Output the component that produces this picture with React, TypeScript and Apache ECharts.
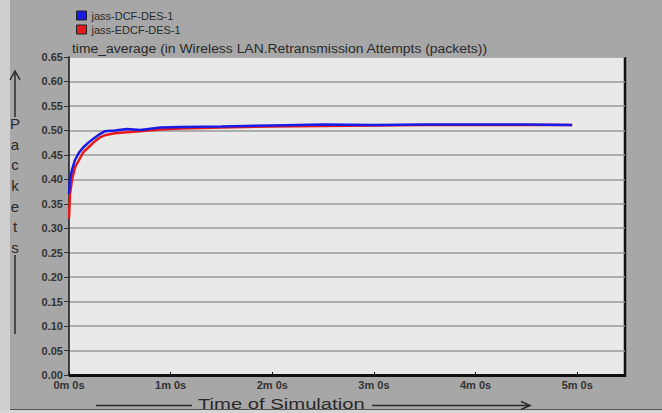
import React, { useEffect, useRef } from "react";
import * as echarts from "echarts";

const timeMin = [0, 0.01, 0.03, 0.06, 0.1, 0.14, 0.19, 0.24, 0.3, 0.35, 0.45, 0.57, 0.7, 0.9, 1.1, 1.5, 2.0, 2.5, 3.0, 3.5, 4.0, 4.5, 4.95];
const dcfValues = [0.37, 0.4, 0.42, 0.44, 0.455, 0.465, 0.475, 0.483, 0.492, 0.498, 0.5, 0.503, 0.501, 0.506, 0.507, 0.508, 0.51, 0.512, 0.511, 0.512, 0.512, 0.512, 0.511];
const edcfValues = [0.32, 0.37, 0.4, 0.425, 0.44, 0.455, 0.465, 0.475, 0.485, 0.49, 0.494, 0.496, 0.498, 0.502, 0.504, 0.506, 0.508, 0.509, 0.51, 0.511, 0.511, 0.511, 0.511];
const seriesNames = ["jass-DCF-DES-1", "jass-EDCF-DES-1"];
const chartTitle = "time_average (in Wireless LAN.Retransmission Attempts (packets))";
const xAxisTitle = "Time of Simulation";
const yAxisLetters = ["P", "a", "c", "k", "e", "t", "s"];

export default function App() {
  const ref = useRef<HTMLDivElement>(null);
  useEffect(() => {
    if (!ref.current) return;
    const chart = echarts.init(ref.current, null, { renderer: "svg" });
    const font = "'Liberation Sans', Arial, sans-serif";
    const dark = "#2a2a2a";
    chart.setOption({
      animation: false,
      backgroundColor: "#a7a7a7",
      textStyle: { fontFamily: font },
      legend: {
        orient: "vertical",
        left: 71,
        top: 5,
        itemGap: 3,
        itemWidth: 10,
        itemHeight: 9,
        icon: "rect",
        data: [
          { name: seriesNames[0], itemStyle: { color: "#1a1ae6", borderColor: "#222", borderWidth: 1 } },
          { name: seriesNames[1], itemStyle: { color: "#e61a1a", borderColor: "#222", borderWidth: 1 } },
        ],
        textStyle: { fontSize: 11, color: dark, fontFamily: font },
      },
      grid: {
        left: 69,
        right: 37,
        top: 57,
        bottom: 38,
        show: true,
        backgroundColor: "#e9e9e9",
        borderWidth: 0,
      },
      xAxis: {
        type: "value",
        min: 0,
        max: 5.47,
        interval: 1,
        axisLine: { show: true, lineStyle: { color: "#111", width: 2 } },
        axisTick: { show: true, inside: true, length: 3, lineStyle: { color: "#111" } },
        splitLine: { show: false },
        axisLabel: {
          formatter: (v: number) => `${v}m 0s`,
          fontSize: 11,
          color: "#333",
          fontWeight: "bold",
          margin: 4,
          showMaxLabel: false,
        },
      },
      yAxis: {
        type: "value",
        min: 0,
        max: 0.65,
        interval: 0.05,
        axisLine: { show: true, lineStyle: { color: "#111", width: 1.5 } },
        axisTick: { show: true, length: 5, lineStyle: { color: "#333" } },
        splitLine: { show: true, lineStyle: { color: "#999999", width: 1.5 } },
        axisLabel: {
          formatter: (v: number) => v.toFixed(2),
          fontSize: 11,
          color: "#333",
          fontWeight: "bold",
          margin: 6,
        },
      },
      series: [
        {
          name: seriesNames[1],
          type: "line",
          data: timeMin.map((t, i) => [t, edcfValues[i]]),
          showSymbol: false,
          lineStyle: { color: "#e61a1a", width: 2.5 },
          itemStyle: { color: "#e61a1a" },
          z: 2,
        },
        {
          name: seriesNames[0],
          type: "line",
          data: timeMin.map((t, i) => [t, dcfValues[i]]),
          showSymbol: false,
          lineStyle: { color: "#1a1ae6", width: 2.5 },
          itemStyle: { color: "#1a1ae6" },
          z: 3,
        },
      ],
      graphic: [
        { type: "rect", shape: { x: 0, y: 0, width: 10, height: 413 }, style: { fill: "#cfcfcf" }, silent: true },
        { type: "rect", shape: { x: 0, y: 410, width: 662, height: 3 }, style: { fill: "#d4d4d4" }, silent: true },
        { type: "line", shape: { x1: 10, y1: 409.5, x2: 662, y2: 409.5 }, style: { stroke: "#555", lineWidth: 1 }, silent: true },
        { type: "line", shape: { x1: 69, y1: 57, x2: 625, y2: 57 }, style: { stroke: "#f4f4f4", lineWidth: 1 }, silent: true },
        { type: "line", shape: { x1: 625, y1: 57, x2: 625, y2: 377 }, style: { stroke: "#111", lineWidth: 2.5 }, silent: true },
        { type: "line", shape: { x1: 69, y1: 376, x2: 626, y2: 376 }, style: { stroke: "#111", lineWidth: 2 }, silent: true },
        {
          type: "text",
          x: 72,
          y: 43,
          scaleX: 1.16,
          style: { text: chartTitle, fill: dark, font: `12px ${font}` },
          silent: true,
        },
        {
          type: "text",
          x: 15,
          y: 113,
          style: {
            text: yAxisLetters.join("\n"),
            lineHeight: 20.7,
            fill: dark,
            font: `15px ${font}`,
            align: "center",
          },
          silent: true,
        },
        { type: "line", shape: { x1: 15, y1: 71, x2: 15, y2: 117 }, style: { stroke: dark, lineWidth: 1.5 }, silent: true },
        { type: "polyline", shape: { points: [[10, 80], [15, 71], [20, 80]] }, style: { stroke: dark, lineWidth: 1.5, fill: "none" }, silent: true },
        { type: "line", shape: { x1: 15, y1: 255, x2: 15, y2: 334 }, style: { stroke: dark, lineWidth: 1.5 }, silent: true },
        {
          type: "text",
          x: 198,
          y: 396,
          scaleX: 1.35,
          style: { text: xAxisTitle, fill: dark, font: `15px ${font}` },
          silent: true,
        },
        { type: "line", shape: { x1: 96, y1: 405.5, x2: 192, y2: 405.5 }, style: { stroke: dark, lineWidth: 1.5 }, silent: true },
        { type: "line", shape: { x1: 372, y1: 405.5, x2: 530, y2: 405.5 }, style: { stroke: dark, lineWidth: 1.5 }, silent: true },
        { type: "polyline", shape: { points: [[521, 401.5], [530, 405.5], [521, 409.5]] }, style: { stroke: dark, lineWidth: 1.5, fill: "none" }, silent: true },
      ],
    });
    return () => chart.dispose();
  }, []);
  return (
    <div
      ref={ref}
      style={{ position: "absolute", left: 0, top: 0, width: 662, height: 413 }}
    />
  );
}
